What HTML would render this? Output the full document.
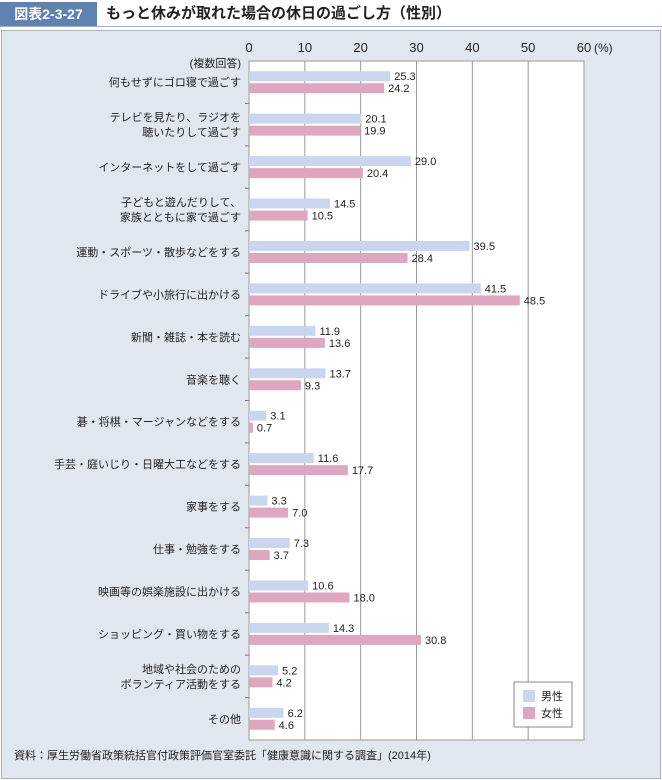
<!DOCTYPE html>
<html><head><meta charset="utf-8">
<style>
body{margin:0;width:662px;height:780px;background:#fff;font-family:"Liberation Sans","Noto Sans CJK JP",sans-serif;overflow:hidden;position:relative}
#titlebar{position:absolute;left:0;top:2px;width:662px;height:24px;border-bottom:1px solid #9fb0c6}
#badge{position:absolute;left:0;top:0;width:97px;height:24px;background:#5f82b1;color:#fff;font-weight:bold;font-size:14px;line-height:24px;text-align:center}
#title{position:absolute;left:106px;top:0;font-weight:bold;font-size:15px;line-height:24px;color:#222}
#panel{position:absolute;left:1px;top:30px;width:658px;height:747px;background:#e1e7ee;border:1px solid #a9b3bf}
svg{position:absolute;left:0;top:0}
#source{position:absolute;left:14px;top:747px;font-size:11px;color:#222}
</style></head><body>
<div id="titlebar">
<div id="badge">図表2-3-27</div>
<div id="title">もっと休みが取れた場合の休日の過ごし方（性別）</div>
</div>
<div id="panel"></div>
<svg id="chart" width="662" height="780"></svg>
<div id="source">資料：厚生労働省政策統括官付政策評価官室委託「健康意識に関する調査」(2014年)</div>
<script>
const categories=[["何もせずにゴロ寝で過ごす"],["テレビを見たり、ラジオを","聴いたりして過ごす"],["インターネットをして過ごす"],["子どもと遊んだりして、","家族とともに家で過ごす"],["運動・スポーツ・散歩などをする"],["ドライブや小旅行に出かける"],["新聞・雑誌・本を読む"],["音楽を聴く"],["碁・将棋・マージャンなどをする"],["手芸・庭いじり・日曜大工などをする"],["家事をする"],["仕事・勉強をする"],["映画等の娯楽施設に出かける"],["ショッピング・買い物をする"],["地域や社会のための","ボランティア活動をする"],["その他"]];
const male=[25.3,20.1,29.0,14.5,39.5,41.5,11.9,13.7,3.1,11.6,3.3,7.3,10.6,14.3,5.2,6.2];
const female=[24.2,19.9,20.4,10.5,28.4,48.5,13.6,9.3,0.7,17.7,7.0,3.7,18.0,30.8,4.2,4.6];
const ticks=[0,10,20,30,40,50,60];
const svg=document.getElementById('chart');
const NS='http://www.w3.org/2000/svg';
const L=249,R=584,T=61,B=740;
const x=v=>L+(R-L)*v/60;
const gh=(B-T)/categories.length;
function mk(tag,attrs,parent){const e=document.createElementNS(NS,tag);for(const k in attrs)e.setAttribute(k,attrs[k]);(parent||svg).appendChild(e);return e;}
const plot=mk('rect',{x:L,y:T,width:R-L,height:B-T,fill:'#fff',stroke:'#999'});


ticks.forEach(t=>{
 if(t>0){const g=mk('line',{x1:x(t),x2:x(t),y1:T,y2:B,stroke:'#999','stroke-width':1});
 
 }
 const tx=mk('text',{x:x(t),y:52,'font-size':13,'text-anchor':'middle',fill:'#222'});
 tx.textContent=t===60?'60':String(t);
 
 
});
const pct=mk('text',{x:x(60)+10,y:52,'font-size':12,fill:'#222'});pct.textContent='(%)';


const note=mk('text',{x:241,y:67,'font-size':11,'text-anchor':'end',fill:'#222'});note.textContent='(複数回答)';


categories.forEach((c,i)=>{
 const g0=T+i*gh,cy=g0+gh/2;
 if(i>0){const tk=mk('line',{x1:L-4,x2:L,y1:g0,y2:g0,stroke:'#777'});
 
 }
 const lines=c;
 lines.forEach((s,j)=>{
  const t=mk('text',{x:241,y:cy+4+(j-(lines.length-1)/2)*15,'font-size':11,'text-anchor':'end',fill:'#222'});
  t.textContent=s;
  
  
 });
 const bm=mk('rect',{x:L,y:cy-11,width:x(male[i])-L,height:10,fill:'#cad6ee'});
 
 
 const bf=mk('rect',{x:L,y:cy+1,width:x(female[i])-L,height:10,fill:'#dea7c0'});
 
 
 const vm=mk('text',{x:x(male[i])+4,y:cy-2,'font-size':11,fill:'#222'});vm.textContent=male[i].toFixed(1);
 
 
 const vf=mk('text',{x:x(female[i])+4,y:cy+10,'font-size':11,fill:'#222'});vf.textContent=female[i].toFixed(1);
 
 
});
const lg=mk('g',{});


mk('rect',{x:514,y:682,width:58,height:45,fill:'#fff',stroke:'#888'},lg);
const lm=mk('rect',{x:523,y:690,width:12,height:12,fill:'#cad6ee'},lg);


const lf=mk('rect',{x:523,y:707,width:12,height:12,fill:'#dea7c0'},lg);


const t1=mk('text',{x:541,y:700,'font-size':11,fill:'#222'},lg);t1.textContent='男性';


const t2=mk('text',{x:541,y:717,'font-size':11,fill:'#222'},lg);t2.textContent='女性';


</script>
</body></html>
